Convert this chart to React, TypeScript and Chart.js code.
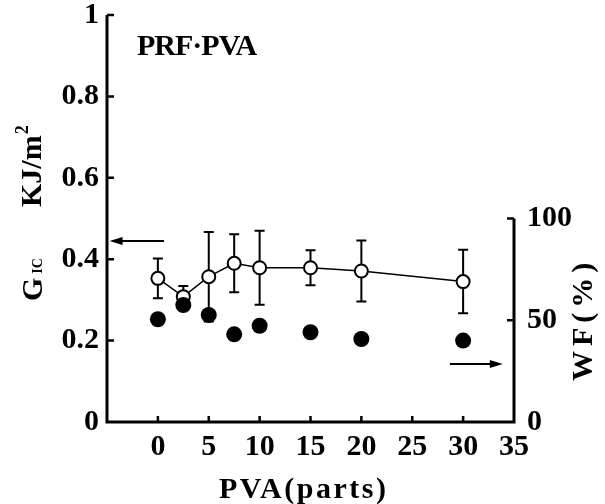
import { useEffect, useRef } from 'react';
import { Chart, registerables } from 'chart.js';

Chart.register(...registerables);

// PVA content (parts) for each specimen series
const pvaParts = [0, 2.5, 5, 7.5, 10, 15, 20, 30];
// Fracture energy G_IC (kJ/m^2) with its error range
const gic = [0.353, 0.308, 0.357, 0.39, 0.379, 0.379, 0.371, 0.345];
const gicErr = [0.049, 0.026, 0.11, 0.071, 0.091, 0.043, 0.075, 0.078];
// Wood failure (%)
const wf = [50.5, 57.5, 52.6, 43.1, 47.3, 44.1, 40.8, 40.0];

// Tick values for each axis
const xTickValues = [0, 5, 10, 15, 20, 25, 30, 35];
const gicTickValues = [0, 0.2, 0.4, 0.6, 0.8, 1];
const wfTickValues = [0, 50, 100];

const SERIF = "'Liberation Serif', 'Times New Roman', serif";
const tickFont = { family: SERIF, size: 30, weight: 'bold' as const, lineHeight: 1 };
const plainLabel = (v: any) => String(Number(v));

function drawArrow(ctx: CanvasRenderingContext2D, xFrom: number, y: number, xTo: number) {
  const dir = Math.sign(xTo - xFrom);
  ctx.beginPath();
  ctx.moveTo(xFrom, y);
  ctx.lineTo(xTo - dir * 8, y);
  ctx.stroke();
  ctx.beginPath();
  ctx.moveTo(xTo, y);
  ctx.lineTo(xTo - dir * 13, y - 4);
  ctx.lineTo(xTo - dir * 13, y + 4);
  ctx.closePath();
  ctx.fill();
}

const errorBars = {
  id: 'errorBars',
  beforeDatasetsDraw(chart: any) {
    const { ctx } = chart;
    const xs = chart.scales.x;
    const ys = chart.scales.y;
    ctx.save();
    ctx.strokeStyle = '#000';
    ctx.lineWidth = 2;
    pvaParts.forEach((p, i) => {
      const px = xs.getPixelForValue(p);
      const top = ys.getPixelForValue(gic[i] + gicErr[i]);
      const bot = ys.getPixelForValue(gic[i] - gicErr[i]);
      ctx.beginPath();
      ctx.moveTo(px, top);
      ctx.lineTo(px, bot);
      ctx.moveTo(px - 5, top);
      ctx.lineTo(px + 5, top);
      ctx.moveTo(px - 5, bot);
      ctx.lineTo(px + 5, bot);
      ctx.stroke();
    });
    ctx.restore();
  },
};

const frame = {
  id: 'frame',
  afterDraw(chart: any) {
    const { ctx, chartArea: a } = chart;
    const xs = chart.scales.x;
    const ys = chart.scales.y;
    const ys2 = chart.scales.y2;
    ctx.save();
    ctx.strokeStyle = '#000';
    ctx.fillStyle = '#000';
    ctx.lineWidth = 3;
    ctx.lineJoin = 'miter';

    // axis lines: left full height, bottom, right only up to 100 %
    ctx.beginPath();
    ctx.moveTo(a.left, a.top);
    ctx.lineTo(a.left, a.bottom);
    ctx.lineTo(a.right, a.bottom);
    ctx.lineTo(a.right, ys2.getPixelForValue(100));
    ctx.stroke();

    // inward tick marks
    ctx.lineWidth = 2.5;
    ctx.beginPath();
    gicTickValues.forEach((v) => {
      if (v === 0) return;
      const py = ys.getPixelForValue(v);
      ctx.moveTo(a.left, py);
      ctx.lineTo(a.left + 7, py);
    });
    xTickValues.forEach((v) => {
      const px = xs.getPixelForValue(v);
      if (px >= a.right - 1) return;
      ctx.moveTo(px, a.bottom);
      ctx.lineTo(px, a.bottom - 6);
    });
    wfTickValues.forEach((v) => {
      if (v === 0) return;
      const py = ys2.getPixelForValue(v);
      ctx.moveTo(a.right, py);
      ctx.lineTo(a.right - 7, py);
    });
    ctx.stroke();

    // arrows pointing to the axis each series belongs to
    ctx.lineWidth = 2;
    drawArrow(ctx, xs.getPixelForValue(0.6), ys.getPixelForValue(0.445), xs.getPixelForValue(-4.75));
    drawArrow(ctx, xs.getPixelForValue(28.7), ys2.getPixelForValue(28.5), xs.getPixelForValue(33.9));

    // panel label
    ctx.textBaseline = 'alphabetic';
    ctx.textAlign = 'left';
    ctx.font = `bold 30px ${SERIF}`;
    (ctx as any).letterSpacing = '-1px';
    ctx.fillText('PRF\u00B7PVA', 137, 55);

    // x-axis title
    (ctx as any).letterSpacing = '2.5px';
    ctx.textAlign = 'left';
    ctx.fillText('PVA(parts)', 219, 498);
    (ctx as any).letterSpacing = '0px';

    // left axis title: G_IC  kJ/m^2
    ctx.save();
    ctx.translate(42, 301);
    ctx.rotate(-Math.PI / 2);
    ctx.textAlign = 'left';
    ctx.font = `bold 30px ${SERIF}`;
    ctx.fillText('G', 0, 0);
    const gw = ctx.measureText('G').width;
    ctx.font = `bold 14px ${SERIF}`;
    ctx.fillText('IC', gw + 4, 0);
    ctx.font = `bold 30px ${SERIF}`;
    ctx.fillText('KJ/m', 94, -1);
    const kw = ctx.measureText('KJ/m').width;
    ctx.font = `bold 18px ${SERIF}`;
    ctx.fillText('2', 94 + kw + 1, -14);
    ctx.restore();

    // right axis title
    ctx.save();
    ctx.translate(592, 381);
    ctx.rotate(-Math.PI / 2);
    ctx.textAlign = 'left';
    ctx.font = `bold 30px ${SERIF}`;
    (ctx as any).letterSpacing = '5px';
    ctx.fillText('WF(%)', 0, 0);
    ctx.restore();

    ctx.restore();
  },
};

export default function App() {
  const canvasRef = useRef<HTMLCanvasElement | null>(null);

  useEffect(() => {
    const canvas = canvasRef.current;
    if (!canvas) return;
    const chart = new Chart(canvas, {
      type: 'scatter',
      data: {
        datasets: [
          {
            label: 'WF',
            data: pvaParts.map((p, i) => ({ x: p, y: wf[i] })),
            yAxisID: 'y2',
            showLine: false,
            pointRadius: 8,
            pointBackgroundColor: '#000',
            pointBorderColor: '#000',
            pointBorderWidth: 0,
            order: 0,
          },
          {
            label: 'GIC',
            data: pvaParts.map((p, i) => ({ x: p, y: gic[i] })),
            yAxisID: 'y',
            showLine: true,
            borderColor: '#000',
            borderWidth: 1.5,
            tension: 0,
            pointRadius: 6.5,
            pointBackgroundColor: '#fff',
            pointBorderColor: '#000',
            pointBorderWidth: 2,
            order: 1,
          },
        ],
      },
      options: {
        animation: false,
        responsive: true,
        maintainAspectRatio: false,
        layout: { padding: { top: 15, left: 0, right: 0, bottom: 0 } },
        plugins: { legend: { display: false }, tooltip: { enabled: false } },
        scales: {
          x: {
            type: 'linear',
            position: 'bottom',
            min: -5,
            max: 35,
            afterBuildTicks: (s: any) => {
              s.ticks = xTickValues.map((v) => ({ value: v }));
            },
            afterFit: (s: any) => {
              s.height = 82;
              s.paddingLeft = 0;
              s.paddingRight = 0;
            },
            grid: { display: false, drawTicks: false },
            border: { display: false },
            ticks: { color: '#000', font: tickFont, padding: 10, maxRotation: 0, autoSkip: false, callback: plainLabel },
          },
          y: {
            type: 'linear',
            position: 'left',
            min: 0,
            max: 1,
            afterBuildTicks: (s: any) => {
              s.ticks = gicTickValues.map((v) => ({ value: v }));
            },
            afterFit: (s: any) => {
              s.width = 107;
              s.paddingTop = 0;
              s.paddingBottom = 0;
            },
            grid: { display: false, drawTicks: false },
            border: { display: false },
            ticks: { color: '#000', font: tickFont, padding: 8, autoSkip: false, callback: plainLabel },
          },
          y2: {
            type: 'linear',
            position: 'right',
            min: 0,
            max: 200,
            afterBuildTicks: (s: any) => {
              s.ticks = wfTickValues.map((v) => ({ value: v }));
            },
            afterFit: (s: any) => {
              s.width = 91;
              s.paddingTop = 0;
              s.paddingBottom = 0;
            },
            grid: { display: false, drawTicks: false },
            border: { display: false },
            ticks: { color: '#000', font: tickFont, padding: 13, autoSkip: false, callback: plainLabel },
          },
        },
      },
      plugins: [errorBars, frame],
    });
    return () => chart.destroy();
  }, []);

  return (
    <div style={{ position: 'fixed', left: 0, top: 0, width: 605, height: 504, background: '#fff' }}>
      <canvas ref={canvasRef} />
    </div>
  );
}
